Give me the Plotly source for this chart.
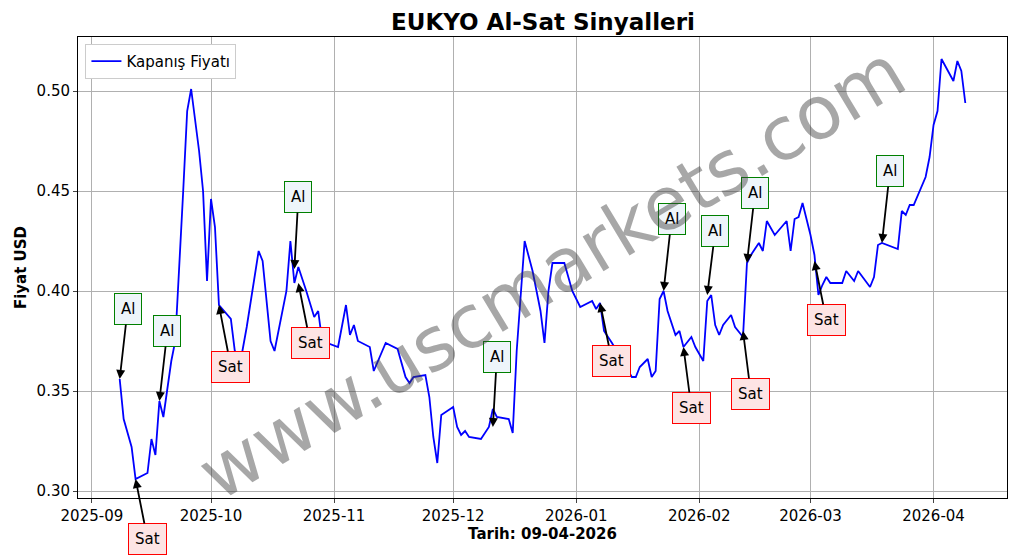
import plotly.graph_objects as go

dates = [
    "2025-09-08", "2025-09-09", "2025-09-11", "2025-09-12", "2025-09-15", "2025-09-16", "2025-09-17",
    "2025-09-18", "2025-09-19", "2025-09-20", "2025-09-21", "2025-09-22", "2025-09-23", "2025-09-24",
    "2025-09-25", "2025-09-26", "2025-09-28", "2025-09-29", "2025-09-30", "2025-10-01", "2025-10-02",
    "2025-10-03", "2025-10-06", "2025-10-07", "2025-10-08", "2025-10-10", "2025-10-13", "2025-10-14",
    "2025-10-16", "2025-10-17", "2025-10-20", "2025-10-21", "2025-10-22", "2025-10-23", "2025-10-25",
    "2025-10-27", "2025-10-28", "2025-10-29", "2025-11-02", "2025-11-04", "2025-11-05", "2025-11-06",
    "2025-11-07", "2025-11-10", "2025-11-11", "2025-11-12", "2025-11-14", "2025-11-17", "2025-11-19",
    "2025-11-20", "2025-11-21", "2025-11-24", "2025-11-25", "2025-11-26", "2025-11-27", "2025-11-28",
    "2025-12-01", "2025-12-02", "2025-12-03", "2025-12-04", "2025-12-05", "2025-12-08", "2025-12-10",
    "2025-12-11", "2025-12-12", "2025-12-15", "2025-12-16", "2025-12-17", "2025-12-19", "2025-12-21",
    "2025-12-23", "2025-12-24", "2025-12-25", "2025-12-26", "2025-12-29", "2025-12-31", "2026-01-02",
    "2026-01-05", "2026-01-06", "2026-01-07", "2026-01-08", "2026-01-10", "2026-01-12", "2026-01-15",
    "2026-01-16", "2026-01-17", "2026-01-19", "2026-01-20", "2026-01-21", "2026-01-22", "2026-01-23",
    "2026-01-24", "2026-01-26", "2026-01-27", "2026-01-28", "2026-01-30", "2026-01-31", "2026-02-02",
    "2026-02-03", "2026-02-04", "2026-02-05", "2026-02-06", "2026-02-07", "2026-02-09", "2026-02-10",
    "2026-02-12", "2026-02-13", "2026-02-14", "2026-02-16", "2026-02-17", "2026-02-18", "2026-02-20",
    "2026-02-23", "2026-02-24", "2026-02-25", "2026-02-26", "2026-02-27", "2026-02-28", "2026-03-01",
    "2026-03-02", "2026-03-03", "2026-03-04", "2026-03-05", "2026-03-06", "2026-03-09", "2026-03-10",
    "2026-03-12", "2026-03-13", "2026-03-16", "2026-03-17", "2026-03-18", "2026-03-19", "2026-03-23",
    "2026-03-24", "2026-03-25", "2026-03-26", "2026-03-27", "2026-03-30", "2026-03-31", "2026-04-01",
    "2026-04-02", "2026-04-03", "2026-04-06", "2026-04-07", "2026-04-08", "2026-04-09",
]
prices = [
    0.356, 0.336, 0.322, 0.306, 0.309, 0.326, 0.318,
    0.345, 0.337, 0.352, 0.365, 0.375, 0.41, 0.45,
    0.49, 0.501, 0.47, 0.45, 0.405, 0.446, 0.432,
    0.393, 0.386, 0.37, 0.36, 0.382, 0.42, 0.415,
    0.375, 0.37, 0.40, 0.425, 0.404, 0.412, 0.40,
    0.387, 0.39, 0.375, 0.372, 0.393, 0.378, 0.383,
    0.375, 0.372, 0.360, 0.365, 0.374, 0.371, 0.357,
    0.354, 0.357, 0.358, 0.347, 0.327, 0.314, 0.338,
    0.342, 0.332, 0.328, 0.330, 0.327, 0.326, 0.332,
    0.341, 0.337, 0.336, 0.329, 0.37, 0.425, 0.41,
    0.39, 0.374, 0.40, 0.414, 0.414, 0.40, 0.392,
    0.395, 0.391, 0.394, 0.38, 0.374, 0.367, 0.357,
    0.357, 0.362, 0.366, 0.357, 0.36, 0.396, 0.40,
    0.39, 0.378, 0.38, 0.372, 0.377, 0.372, 0.365,
    0.395, 0.398, 0.383, 0.378, 0.383, 0.388, 0.382,
    0.377, 0.414, 0.418, 0.424, 0.42, 0.435, 0.428,
    0.435, 0.42, 0.436, 0.437, 0.444, 0.436, 0.428,
    0.418, 0.398, 0.403, 0.407, 0.404, 0.404, 0.41,
    0.405, 0.41, 0.402, 0.407, 0.423, 0.424, 0.421,
    0.44, 0.438, 0.443, 0.443, 0.457, 0.467, 0.483,
    0.49, 0.516, 0.505, 0.515, 0.51, 0.494,
]

# signals: (date, price at arrow tip, label date, label y)
al_signals = [
    ("2025-09-08", 0.356, "2025-09-10", 0.391),
    ("2025-09-18", 0.345, "2025-09-20", 0.380),
    ("2025-10-22", 0.411, "2025-10-23", 0.447),
    ("2025-12-11", 0.332, "2025-12-12", 0.367),
    ("2026-01-23", 0.400, "2026-01-25", 0.436),
    ("2026-02-03", 0.398, "2026-02-05", 0.430),
    ("2026-02-13", 0.414, "2026-02-15", 0.449),
    ("2026-03-19", 0.424, "2026-03-21", 0.460),
]
sat_signals = [
    ("2025-09-12", 0.306, "2025-09-15", 0.276),
    ("2025-10-03", 0.393, "2025-10-06", 0.362),
    ("2025-10-23", 0.404, "2025-10-26", 0.374),
    ("2026-01-07", 0.394, "2026-01-10", 0.365),
    ("2026-01-28", 0.372, "2026-01-30", 0.3415),
    ("2026-02-12", 0.380, "2026-02-14", 0.3485),
    ("2026-03-02", 0.415, "2026-03-05", 0.3855),
]

fig = go.Figure()
fig.add_trace(go.Scatter(x=dates, y=prices, mode="lines", name="Kapanış Fiyatı",
                         line=dict(color="blue", width=1.8)))

annotations = []
for sigs, text, border, bg in [(al_signals, "Al", "green", "#eef5fa"),
                               (sat_signals, "Sat", "red", "#fde4e4")]:
    for d, p, ld, ly in sigs:
        annotations.append(dict(
            x=d, y=p, ax=ld, ay=ly, axref="x", ayref="y", text=text,
            showarrow=True, arrowhead=2, arrowsize=1, arrowwidth=1.8, arrowcolor="black",
            font=dict(size=15, color="black"), bordercolor=border, borderwidth=1,
            borderpad=6, bgcolor=bg,
        ))
annotations.append(dict(
    x=0.51, y=0.49, xref="paper", yref="paper", text="www.uscmarkets.com", showarrow=False,
    textangle=-31, font=dict(size=74, color="rgba(60,60,60,0.45)"),
))
annotations.append(dict(
    x=0.5, y=1.0, xref="paper", yref="paper", yanchor="bottom", yshift=0,
    text="<b>EUKYO Al-Sat Sinyalleri</b>", showarrow=False, font=dict(size=23),
))

# page body has an 8px margin, so margins are shifted to keep the plot box in place
fig.update_layout(
    width=1017, height=557,
    margin=dict(l=70, r=18, t=29, b=67, autoexpand=False),
    plot_bgcolor="white", paper_bgcolor="white",
    font=dict(family="DejaVu Sans", size=15, color="black"),
    xaxis=dict(title=dict(text="<b>Tarih: 09-04-2026</b>", font=dict(size=15), standoff=2),
               range=["2025-08-28 12:00", "2026-04-19 12:00"], automargin=False,
               tickformat="%Y-%m", dtick="M1", showgrid=True, gridcolor="#b0b0b0",
               showline=True, linecolor="black", mirror=True, ticks="outside", ticklen=4),
    yaxis=dict(title=dict(text="<b>Fiyat USD</b>", font=dict(size=15), standoff=6),
               range=[0.2965, 0.527], dtick=0.05, tickformat=".2f", showgrid=True,
               gridcolor="#b0b0b0", showline=True, linecolor="black", mirror=True,
               automargin=False, ticks="outside", ticklen=4),
    legend=dict(x=0.008, y=0.985, xanchor="left", yanchor="top", bordercolor="#cccccc",
                borderwidth=1, bgcolor="white", font=dict(size=15)),
    showlegend=True,
    annotations=annotations,
)

fig.write_html("out.html")
